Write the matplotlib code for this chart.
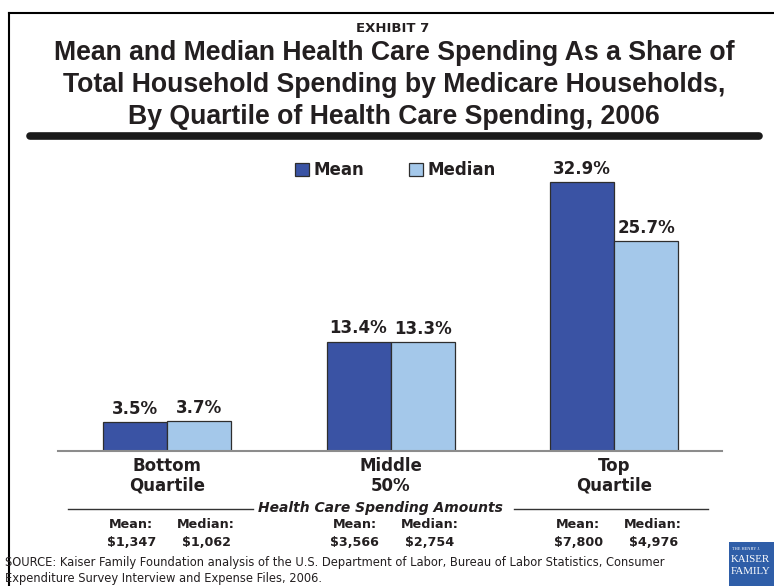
import numpy as np
import matplotlib.pyplot as plt
import matplotlib.transforms as mtransforms
from matplotlib.patches import Rectangle
from matplotlib.lines import Line2D

# share of total household spending that goes to health care (%)
groups = ["Bottom\nQuartile", "Middle\n50%", "Top\nQuartile"]
mean_share = [3.5, 13.4, 32.9]
median_share = [3.7, 13.3, 25.7]

# health care spending amounts per quartile
mean_dollars = ["$1,347", "$3,566", "$7,800"]
median_dollars = ["$1,062", "$2,754", "$4,976"]

title_lines = [
    "Mean and Median Health Care Spending As a Share of",
    "Total Household Spending by Medicare Households,",
    "By Quartile of Health Care Spending, 2006",
]
source = ("SOURCE: Kaiser Family Foundation analysis of the U.S. Department of Labor, "
          "Bureau of Labor Statistics, Consumer\n"
          "Expenditure Survey Interview and Expense Files, 2006.")

W, H = 774, 586
def fx(px):
    return px / W
def fy(py):
    return 1 - py / H

dark_blue = "#3a53a4"
light_blue = "#a4c8ea"
edge = "#2e2e2e"
txt = "#231f20"

fig = plt.figure(figsize=(7.74, 5.86), dpi=100)

ax = fig.add_axes([fx(58), fy(451), fx(722) - fx(58), (451 - 165) / H])
x = np.arange(len(groups))
w = 0.2864
b1 = ax.bar(x - w / 2, mean_share, w, color=dark_blue, edgecolor=edge, linewidth=0.9, label="Mean")
b2 = ax.bar(x + w / 2, median_share, w, color=light_blue, edgecolor=edge, linewidth=0.9, label="Median")

for bars, vals in [(b1, mean_share), (b2, median_share)]:
    for rect, v in zip(bars, vals):
        ax.annotate(f"{v:.1f}%", (rect.get_x() + rect.get_width() / 2, v),
                    xytext=(0, 3), textcoords="offset points", ha="center", va="bottom",
                    fontsize=12, fontweight="bold", color=txt)

ax.set_xlim(-0.488, 2.483)
ax.set_ylim(0, 35)
ax.set_yticks([])
for s in ["left", "top", "right"]:
    ax.spines[s].set_visible(False)
ax.spines["bottom"].set_color("#8c8c8c")
ax.spines["bottom"].set_linewidth(1.5)
ax.set_xticks(x, groups, fontsize=12, fontweight="bold", color=txt)
ax.tick_params(axis="x", length=0, pad=4)
for lbl in ax.get_xticklabels():
    lbl.set_linespacing(1.15)

leg = ax.legend(loc="center left", bbox_to_anchor=(fx(295), fy(170)),
                bbox_transform=fig.transFigure, ncol=2, frameon=False,
                borderaxespad=0, borderpad=0, handlelength=0.85, handleheight=0.85,
                handletextpad=0.25, columnspacing=2.7,
                prop={"weight": "bold", "size": 12})
for t in leg.get_texts():
    t.set_color(txt)

# heading
fig.text(fx(393), fy(28), "EXHIBIT 7", ha="center", va="center",
         fontsize=9.5, fontweight="bold", color=txt)
fig.text(fx(394), fy(85), "\n".join(title_lines), ha="center", va="center",
         fontsize=19.2, fontweight="bold", family="Liberation Sans",
         linespacing=1.28, color=txt)
fig.add_artist(Line2D([fx(30), fx(759)], [fy(136)] * 2, transform=fig.transFigure,
                      color="#1a1a1a", lw=5.5, solid_capstyle="round"))

# outer frame
fig.add_artist(Line2D([fx(9), fx(9)], [fy(13), 0], transform=fig.transFigure, color="black", lw=1.5))
fig.add_artist(Line2D([fx(9), 1], [fy(13), fy(13)], transform=fig.transFigure, color="black", lw=1.5))

# spending amounts under each group
fig.add_artist(Line2D([fx(68), fx(253)], [fy(509)] * 2, transform=fig.transFigure, color="#333333", lw=1))
fig.add_artist(Line2D([fx(514), fx(708)], [fy(509)] * 2, transform=fig.transFigure, color="#333333", lw=1))
fig.text(fx(380), fy(508), "Health Care Spending Amounts", ha="center", va="center",
         fontsize=10, fontweight="bold", style="italic", color=txt)

trans = mtransforms.blended_transform_factory(ax.transData, fig.transFigure)
for i in x:
    ax.text(i - 0.16, fy(525), "Mean:", transform=trans, ha="center", va="center",
            fontsize=9.2, fontweight="bold", color=txt)
    ax.text(i + 0.175, fy(525), "Median:", transform=trans, ha="center", va="center",
            fontsize=9.2, fontweight="bold", color=txt)
    ax.text(i - 0.16, fy(542), mean_dollars[i], transform=trans, ha="center", va="center",
            fontsize=9.2, fontweight="bold", color=txt)
    ax.text(i + 0.175, fy(542), median_dollars[i], transform=trans, ha="center", va="center",
            fontsize=9.2, fontweight="bold", color=txt)

fig.text(fx(5), fy(556), source, ha="left", va="top", fontsize=8.3,
         linespacing=1.3, color=txt)

# logo block, bottom right
fig.add_artist(Rectangle((fx(729), 0), 1 - fx(729), fy(542), transform=fig.transFigure,
                         facecolor="#2f5ea8", edgecolor="none"))
fig.text(fx(732), fy(549), "THE HENRY J.", ha="left", va="center", fontsize=3.2,
         color="white", family="Liberation Serif")
fig.text(fx(731), fy(560), "KAISER", ha="left", va="center", fontsize=7.8,
         color="white", family="Liberation Serif")
fig.text(fx(731), fy(572), "FAMILY", ha="left", va="center", fontsize=7.8,
         color="white", family="Liberation Serif")

fig.savefig("out.png", dpi=100)
